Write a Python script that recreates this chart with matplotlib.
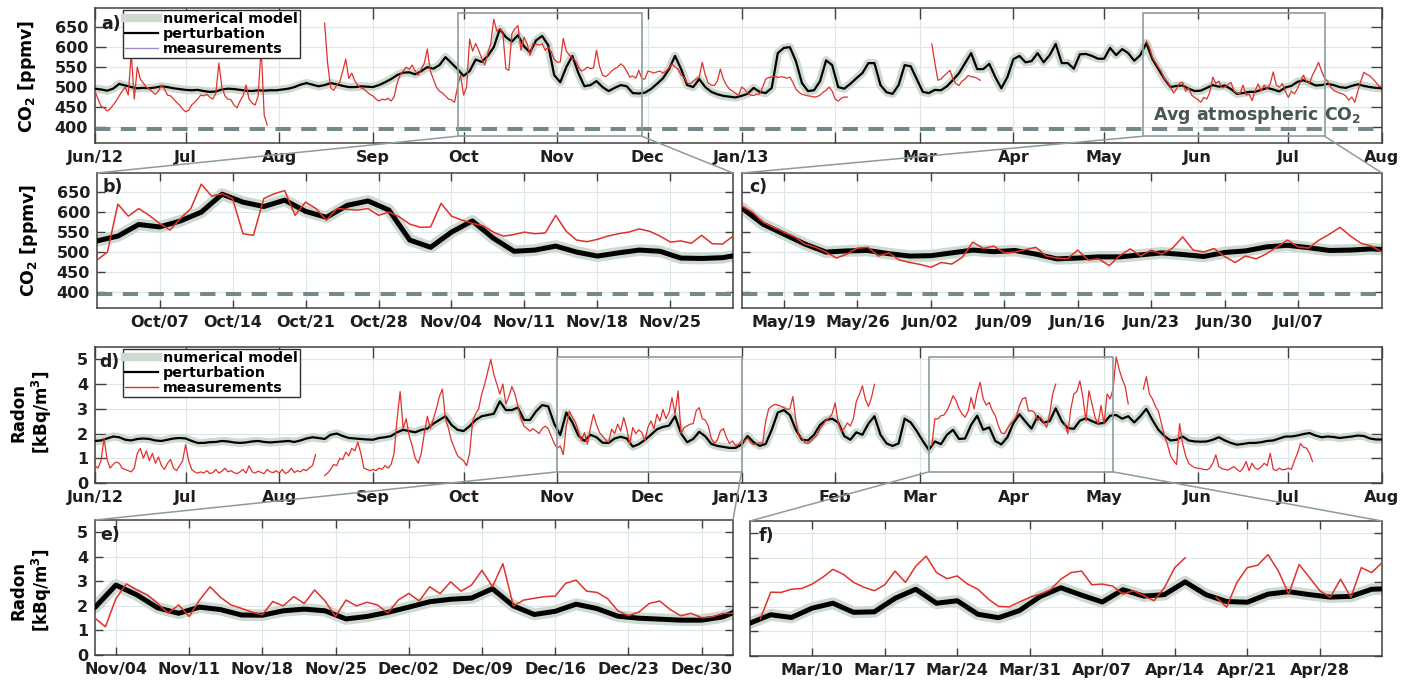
import numpy as np
import pandas as pd
import matplotlib
matplotlib.use('Agg')
import matplotlib.pyplot as plt
from matplotlib.lines import Line2D
from matplotlib.patches import Rectangle, ConnectionPatch
import matplotlib.dates as mdates

nan = np.nan

# ---------------- data ----------------
# CO2 [ppmv], numerical model / perturbation, every 2nd day from 2012-06-01 (one row per month)
co2_model = [
    [496, 494, 491, 496, 508, 504, 500, 497, 498, 497, 499, 502, 500, 497, 495],            # Jun 12
    [493, 492, 493, 490, 488, 489, 494, 496, 495, 493, 491, 490, 492, 491, 492, 492],       # Jul
    [494, 496, 500, 506, 510, 506, 502, 505, 510, 507, 503, 500, 500, 502, 501],            # Aug
    [500, 505, 512, 520, 530, 536, 537, 532, 540, 550, 546, 555, 575, 560, 545],            # Sep
    [528, 540, 569, 563, 578, 600, 645, 625, 614, 630, 602, 587, 617, 628, 605, 530],       # Oct
    [512, 550, 578, 535, 502, 505, 515, 500, 490, 498, 505, 502, 485, 484, 486],            # Nov
    [495, 508, 522, 545, 578, 545, 505, 500, 520, 500, 488, 482, 478, 476, 474],            # Dec
    [478, 483, 498, 488, 485, 498, 585, 598, 600, 565, 510, 490, 492, 515, 567, 555],       # Jan 13
    [500, 496, 508, 522, 535, 560, 560, 505, 487, 483, 505, 555, 552, 520],                 # Feb
    [488, 485, 493, 492, 502, 518, 535, 560, 585, 545, 545, 558, 525, 497, 525],            # Mar
    [570, 578, 562, 565, 585, 562, 580, 608, 560, 560, 546, 582, 583, 578, 571],            # Apr
    [571, 598, 580, 595, 585, 566, 580, 610, 570, 545, 520, 500, 503, 504, 496, 490],       # May
    [491, 498, 505, 501, 504, 495, 483, 485, 488, 488, 493, 498, 494, 489, 499],            # Jun
    [503, 513, 517, 511, 504, 505, 508, 505, 500, 498, 503, 507, 503, 500, 498],            # Jul
    [497],                                                                                  # Aug 1
]

# CO2 [ppmv], measurements, daily from 2012-06-01 (one row per month)
co2_meas = [
    [490, 470, 452, 448, 440, 445, 455, 465, 478, 490, 500, 480, 585, 470, 550,
     520, 510, 500, 495, 488, 482, 490, 505, 495, 480, 478, 470, 462, 455, 445],
    [438, 442, 455, 462, 470, 480, 478, 482, 475, 470, 485, 560, 500, 478, 470, 468,
     455, 448, 465, 478, 505, 470, 460, 455, 478, 600, 430, 405, nan, nan, nan],
    [nan] * 15 + [660, 560, 498, 492, 505, 512, 540, 570, 522, 535, 515, 505, 498, 495, 488, 482],
    [478, 470, 465, 470, 468, 472, 465, 475, 510, 530, 540, 550, 545, 555, 540,
     530, 545, 560, 595, 540, 520, 500, 490, 485, 478, 470, 468, 462, 500, 530],
    [480, 500, 620, 590, 609, 592, 572, 555, 584, 609, 670, 640, 646, 634, 546, 542,
     634, 646, 654, 592, 625, 609, 580, 609, 607, 605, 609, 592, 600, 588, 570],
    [562, 563, 622, 590, 580, 572, 566, 550, 540, 544, 550, 546, 548, 592, 552,
     530, 526, 532, 540, 546, 550, 558, 552, 540, 525, 528, 522, 542, 521, 520],
    [540, 538, 535, 538, 540, 535, 540, 548, 558, 550, 545, 530, 525, 510, 508, 515,
     520, 525, 562, 530, 510, 505, 504, 515, 545, 520, 505, 495, 490, 485, 478],
    [500, 495, 485, 480, 479, 482, 483, 500, 520, 524, 525, 527, 524, 526, 525, 522,
     525, 512, 495, 487, 482, 480, 478, 477, 475, 476, 480, 487, 492, 500, 490],
    [470, 465, 472, 475, 475] + [nan] * 23,
    [nan] * 4 + [608, 560, 517, 520, 528, 535, 542, 520, 508, 504, 515, 520, 529, 526,
                 525, 522, 517] + [nan] * 10,
    [nan] * 30,
    [nan] * 14 + [615, 600, 575, 562, 550, 538, 520, 512, 500, 485, 495, 510, 512, 490,
                  498, 480, 474],
    [469, 462, 474, 470, 487, 525, 509, 515, 498, 500, 506, 512, 490, 485, 483,
     505, 480, 483, 466, 491, 508, 490, 505, 495, 509, 538, 505, 500, 509, 489],
    [474, 490, 483, 496, 513, 530, 513, 510, 530, 545, 562, 540, 522, 515, 500, 492,
     488, 485, 483, 478, 467, 475, 462, 490, 515, 537, 532, 528, 520, 512, 502],
    [500],
]

# Radon [kBq/m3], numerical model / perturbation, every 2nd day from 2012-06-01
radon_model = [
    [1.70, 1.72, 1.80, 1.88, 1.85, 1.75, 1.72, 1.78, 1.80, 1.78, 1.72, 1.70, 1.75, 1.80, 1.82],
    [1.80, 1.70, 1.62, 1.62, 1.65, 1.66, 1.70, 1.68, 1.64, 1.62, 1.64, 1.68, 1.70, 1.66, 1.64, 1.66],
    [1.68, 1.70, 1.66, 1.72, 1.80, 1.85, 1.82, 1.78, 1.95, 2.00, 1.90, 1.82, 1.80, 1.78, 1.76],
    [1.75, 1.82, 1.85, 1.90, 2.05, 2.15, 2.10, 2.05, 2.15, 2.20, 2.40, 2.55, 2.70, 2.35, 2.15],
    [2.10, 2.30, 2.55, 2.70, 2.75, 2.80, 3.30, 2.95, 2.95, 3.05, 2.55, 2.55, 2.90, 3.15, 3.10, 2.40],
    [1.94, 2.85, 2.45, 1.92, 1.70, 1.95, 1.85, 1.63, 1.62, 1.80, 1.87, 1.80, 1.47, 1.57, 1.74],
    [1.95, 2.17, 2.27, 2.32, 2.70, 2.00, 1.65, 1.78, 2.07, 1.89, 1.58, 1.50, 1.46, 1.42, 1.42],
    [1.55, 1.90, 1.65, 1.50, 1.58, 2.15, 2.85, 2.95, 2.75, 2.15, 1.75, 1.72, 1.95, 2.35, 2.55, 2.60],
    [2.45, 1.90, 1.75, 2.05, 1.95, 2.40, 2.70, 1.95, 1.60, 1.50, 1.60, 2.60, 2.45, 2.10],
    [1.70, 1.34, 1.68, 1.57, 1.95, 2.15, 1.78, 1.80, 2.35, 2.72, 2.15, 2.25, 1.70, 1.56, 1.85],
    [2.42, 2.78, 2.48, 2.20, 2.70, 2.44, 2.50, 3.02, 2.50, 2.22, 2.19, 2.52, 2.62, 2.50, 2.40],
    [2.43, 2.72, 2.75, 2.60, 2.70, 2.45, 2.70, 3.00, 2.55, 2.15, 1.90, 1.72, 1.75, 1.88, 1.72, 1.68],
    [1.67, 1.68, 1.75, 1.85, 1.72, 1.62, 1.55, 1.58, 1.62, 1.62, 1.65, 1.70, 1.72, 1.80, 1.88],
    [1.88, 1.92, 1.98, 2.02, 1.92, 1.85, 1.88, 1.86, 1.82, 1.85, 1.88, 1.92, 1.90, 1.80, 1.76],
    [1.76],
]

# Radon [kBq/m3], measurements, daily from 2012-06-01
radon_meas = [
    [0.70, 0.60, 0.90, 1.80, 0.95, 0.60, 0.75, 0.85, 0.80, 0.60, 0.55, 0.50, 0.45, 0.60, 1.20,
     1.40, 1.00, 1.30, 0.90, 1.20, 0.80, 1.05, 0.70, 0.55, 0.80, 0.95, 0.60, 0.50, 0.70, 0.90],
    [1.55, 0.90, 0.55, 0.45, 0.40, 0.45, 0.40, 0.50, 0.38, 0.42, 0.55, 0.40, 0.48, 0.60, 0.45, 0.50,
     0.42, 0.38, 0.45, 0.55, 0.40, 0.70, 0.45, 0.40, 0.48, 0.42, 0.38, 0.55, 0.45, 0.42, 0.50],
    [0.40, 0.55, 0.38, 0.45, 0.60, 0.42, 0.50, 0.45, 0.55, 0.50, 0.62, 0.70, 1.15, nan, nan, 0.30,
     0.40, 0.55, 0.75, 0.70, 1.00, 0.95, 1.25, 1.10, 1.40, 1.30, 1.65, 1.20, 0.60, 0.55, 0.50],
    [0.55, 0.50, 0.60, 0.55, 0.70, 0.60, 0.75, 1.20, 2.60, 3.70, 2.20, 2.60, 1.90, 1.50, 1.00,
     0.80, 1.20, 2.00, 2.70, 2.20, 2.60, 3.00, 3.50, 3.80, 2.60, 2.20, 1.70, 1.40, 1.10, 1.00],
    [0.90, 0.70, 1.20, 2.50, 2.80, 3.00, 3.60, 4.00, 4.50, 5.00, 4.40, 4.00, 3.60, 4.00, 3.20, 3.50,
     3.90, 3.60, 3.10, 2.60, 2.30, 2.20, 2.10, 2.20, 2.10, 2.00, 2.20, 2.30, 2.20, 1.90, 1.60],
    [1.40, 1.50, 1.15, 2.30, 2.90, 2.65, 2.45, 2.10, 1.70, 2.04, 1.57, 2.24, 2.78, 2.35, 2.04,
     1.90, 1.75, 1.64, 2.18, 2.00, 2.38, 2.10, 2.65, 2.20, 1.57, 2.24, 2.00, 2.15, 2.04, 1.71],
    [2.24, 2.51, 2.20, 2.78, 2.50, 2.98, 2.60, 2.85, 3.45, 2.78, 3.72, 2.00, 2.24, 2.31, 2.38, 2.40,
     2.92, 3.05, 2.60, 2.55, 2.30, 1.80, 1.60, 1.75, 2.10, 2.20, 1.85, 1.60, 1.70, 1.52, 1.55],
    [1.69, 1.70, 1.82, 1.65, 1.55, 1.60, 1.62, 1.62, 2.50, 3.00, 3.11, 3.18, 3.15, 3.11, 3.05, 2.97,
     3.00, 3.50, 2.50, 1.90, 1.82, 1.62, 1.60, 1.70, 1.82, 1.95, 2.20, 2.36, 2.55, 2.63, 2.80],
    [3.24, 2.43, 2.09, 2.20, 2.43, 2.30, 2.60, 3.30, 3.58, 3.93, 3.38, 3.10, 3.45, 3.99] + [nan] * 14,
    [nan] * 4 + [1.52, 2.60, 2.59, 2.72, 2.75, 2.93, 3.20, 3.53, 3.33, 3.00, 2.80, 2.66, 2.90, 3.46,
                 3.00, 3.66, 4.07, 3.40, 3.15, 3.26, 2.93, 2.72, 2.32, 2.02, 2.00, 2.20, 2.39],
    [2.52, 2.70, 3.13, 3.40, 3.46, 2.90, 2.93, 2.85, 2.52, 2.66, 2.46, 2.25, 2.79, 3.60, 4.00,
     nan, nan, 2.39, 1.99, 3.00, 3.60, 3.70, 4.13, 3.46, 2.52, 3.73, 3.20, 2.66, 2.39, 3.13],
    [2.39, 3.60, 3.40, 3.80, 5.10, 4.60, 4.20, 3.90, 3.20, nan, nan, nan, nan, 3.80, 4.30, 3.60,
     3.40, 3.10, 2.90, 2.40, 1.90, 1.55, 1.10, 0.90, 0.75, 2.40, 1.60, 1.10, 0.80, 0.70, 0.62],
    [0.60, 0.58, 0.55, 0.53, 0.60, 0.80, 1.14, 0.66, 0.58, 0.55, 0.52, 0.60, 0.66, 0.55, 0.46,
     0.60, 0.87, 0.50, 0.80, 0.60, 0.55, 0.65, 0.80, 0.70, 1.20, 0.55, 0.50, 0.60, 0.53, 0.55],
    [0.60, 0.55, 0.90, 1.20, 1.60, 1.45, 1.41, 1.20, 0.87] + [nan] * 22,
    [nan],
]

avg_co2 = 394  # average atmospheric CO2

month_labels_a = ['Jun/12', 'Jul', 'Aug', 'Sep', 'Oct', 'Nov', 'Dec', 'Jan/13', '',
                  'Mar', 'Apr', 'May', 'Jun', 'Jul', 'Aug']
month_labels_d = ['Jun/12', 'Jul', 'Aug', 'Sep', 'Oct', 'Nov', 'Dec', 'Jan/13', 'Feb',
                  'Mar', 'Apr', 'May', 'Jun', 'Jul', 'Aug']

# zoomed windows (panel b, c, e, f): start, end, first weekly tick, number of weekly ticks
zoom_b = ('2012-10-01', '2012-12-01', '2012-10-07', 8)
zoom_c = ('2013-05-15', '2013-07-15', '2013-05-19', 8)
zoom_e = ('2012-11-02', '2013-01-02', '2012-11-04', 9)
zoom_f = ('2013-03-04', '2013-05-04', '2013-03-10', 8)
# highlighted boxes in the overview panels
box_a = [('2012-09-29', '2012-11-29'), ('2013-05-14', '2013-07-13')]
box_d = [('2012-11-01', '2013-01-01'), ('2013-03-04', '2013-05-04')]

# ---------------- series ----------------
month_starts = pd.date_range('2012-06-01', '2013-08-01', freq='MS')
grid2 = pd.date_range('2012-06-01', '2013-08-01', freq='2D')


def daily(blocks):
    t, v = [], []
    for start, row in zip(month_starts, blocks):
        if start != month_starts[-1]:
            assert len(row) == start.days_in_month, (start, len(row))
        t.extend(start + pd.to_timedelta(np.arange(len(row)), 'D'))
        v.extend(row)
    return pd.DatetimeIndex(t).to_numpy(), np.array(v, float)


def every2(blocks):
    t, v = [], []
    for start, row in zip(month_starts, blocks):
        days = grid2[(grid2.year == start.year) & (grid2.month == start.month)]
        assert len(days) == len(row), (start, len(row), len(days))
        t.extend(days)
        v.extend(row)
    return pd.DatetimeIndex(t).to_numpy(), np.array(v, float)


co2_m = every2(co2_model)
co2_o = daily(co2_meas)
rn_m = every2(radon_model)
rn_o = daily(radon_meas)

# ---------------- style ----------------
plt.rcParams['font.family'] = 'DejaVu Sans'
plt.rcParams['font.weight'] = 'bold'
plt.rcParams['mathtext.default'] = 'bf'

GLOW = '#cddacf'
RED = '#e2302b'
FRAME = '#404040'
BOXC = '#8b9d9b'
GRID = '#dde6e6'
DASH = '#76898a'

W, H = 1412, 681
fig = plt.figure(figsize=(W / 100, H / 100), dpi=100)


def px_axes(left, top, right, bottom):
    return fig.add_axes([left / W, 1 - bottom / H, (right - left) / W, (bottom - top) / H])


def style(ax, ticklen):
    for s in ax.spines.values():
        s.set_color(FRAME)
        s.set_linewidth(1.1)
    ax.tick_params(direction='in', top=True, right=True, length=ticklen, width=1,
                   color=FRAME, labelsize=11.5, pad=5, labelcolor='#1e1e1e')
    ax.grid(True, color=GRID, lw=0.8)
    ax.set_axisbelow(True)


def draw(ax, model, meas, zoom):
    ax.plot(model[0], model[1], color=GLOW, lw=8.5 if zoom else 6,
            solid_capstyle='round', zorder=2)
    ax.plot(model[0], model[1], color='black', lw=3.6 if zoom else 1.6, zorder=3)
    ax.plot(meas[0], meas[1], color=RED, lw=1.1 if zoom else 0.9, zorder=4)


def letter(ax, txt, x, y):
    ax.text(x, y, txt, transform=ax.transAxes, fontsize=12.5, fontweight='bold',
            va='top', ha='left', color='#1e1e1e', zorder=6)


def weekly(ax, win):
    ax.set_xlim(np.datetime64(win[0]), np.datetime64(win[1]))
    ticks = pd.date_range(win[2], periods=win[3], freq='7D')
    ax.set_xticks(ticks.to_numpy())
    ax.set_xticklabels([d.strftime('%b/%d') for d in ticks])


ax_a = px_axes(95, 8, 1382, 143)
ax_b = px_axes(97, 173, 733, 308)
ax_c = px_axes(742, 173, 1382, 308)
ax_d = px_axes(95, 347, 1382, 483)
ax_e = px_axes(95, 520, 733, 655)
ax_f = px_axes(750, 521, 1382, 656)

# CO2 panels
for ax, zoom in [(ax_a, False), (ax_b, True), (ax_c, True)]:
    style(ax, 6 if zoom else 8)
    draw(ax, co2_m, co2_o, zoom)
    ax.axhline(avg_co2, color=DASH, lw=2.9, dashes=(3.8, 2.6), zorder=2.5)
    ax.set_ylim(360, 698)
    ax.set_yticks([400, 450, 500, 550, 600, 650])

# Radon panels
for ax, zoom in [(ax_d, False), (ax_e, True), (ax_f, True)]:
    style(ax, 6 if zoom else 8)
    draw(ax, rn_m, rn_o, zoom)
    ax.set_ylim(0, 5.5)
    ax.set_yticks([0, 1, 2, 3, 4, 5])

for ax, labels in [(ax_a, month_labels_a), (ax_d, month_labels_d)]:
    ax.set_xlim(month_starts[0], month_starts[-1])
    ax.set_xticks(month_starts.to_numpy())
    ax.set_xticklabels(labels)

weekly(ax_b, zoom_b)
weekly(ax_c, zoom_c)
weekly(ax_e, zoom_e)
weekly(ax_f, zoom_f)
ax_c.set_yticklabels([])
ax_f.set_yticklabels([])

ax_a.text(0.984, 430, r'Avg atmospheric CO$_2$', transform=ax_a.get_yaxis_transform(),
          ha='right', va='center', fontsize=12.5, color='#465656', zorder=6)


# legends
def legend(ax, meas_color):
    handles = [Line2D([], [], color=GLOW, lw=6),
               Line2D([], [], color='black', lw=1.6),
               Line2D([], [], color=meas_color, lw=1.0)]
    leg = ax.legend(handles, ['numerical model', 'perturbation', 'measurements'],
                    loc='upper left', bbox_to_anchor=(0.022, 0.985), frameon=True,
                    fancybox=False, framealpha=1, edgecolor='#303030', borderpad=0.15,
                    labelspacing=0.05, handlelength=2.3, handletextpad=0.3,
                    borderaxespad=0, prop={'size': 10.3, 'weight': 'bold'})
    leg.get_frame().set_linewidth(1.0)
    leg.set_zorder(7)


legend(ax_a, '#a08ad2')
legend(ax_d, RED)

letter(ax_a, 'a)', 0.005, 0.95)
letter(ax_b, 'b)', 0.009, 0.965)
letter(ax_c, 'c)', 0.011, 0.965)
letter(ax_d, 'd)', 0.003, 0.955)
letter(ax_e, 'e)', 0.009, 0.955)
letter(ax_f, 'f)', 0.014, 0.955)

# axis titles
fig.text(27 / W, 1 - 76 / H, r'CO$_2$ [ppmv]', rotation=90, ha='center', va='center', fontsize=12.5)
fig.text(29 / W, 1 - 240 / H, r'CO$_2$ [ppmv]', rotation=90, ha='center', va='center', fontsize=12.5)
fig.text(32 / W, 1 - 412 / H, 'Radon\n[kBq/m$^3$]', rotation=90, ha='center', va='center',
         fontsize=12, linespacing=1.15, multialignment='center')
fig.text(32 / W, 1 - 590 / H, 'Radon\n[kBq/m$^3$]', rotation=90, ha='center', va='center',
         fontsize=12, linespacing=1.15, multialignment='center')


# zoom boxes and connector lines
def zoom_links(ax_main, boxes, y0, y1, targets):
    for (d0, d1), target in zip(boxes, targets):
        x0 = mdates.date2num(np.datetime64(d0))
        x1 = mdates.date2num(np.datetime64(d1))
        ax_main.add_patch(Rectangle((x0, y0), x1 - x0, y1 - y0, fill=False, ec=BOXC,
                                    lw=1.2, zorder=5))
        for xa, xb in [(x0, 0), (x1, 1)]:
            con = ConnectionPatch(xyA=(xa, y0), coordsA=ax_main.transData,
                                  xyB=(xb, 1), coordsB=target.transAxes,
                                  color=BOXC, lw=1.1)
            con.set_zorder(8)
            fig.add_artist(con)


zoom_links(ax_a, box_a, 377, 686, [ax_b, ax_c])
zoom_links(ax_d, box_d, 0.45, 5.1, [ax_e, ax_f])

fig.savefig('out.png', dpi=100)
